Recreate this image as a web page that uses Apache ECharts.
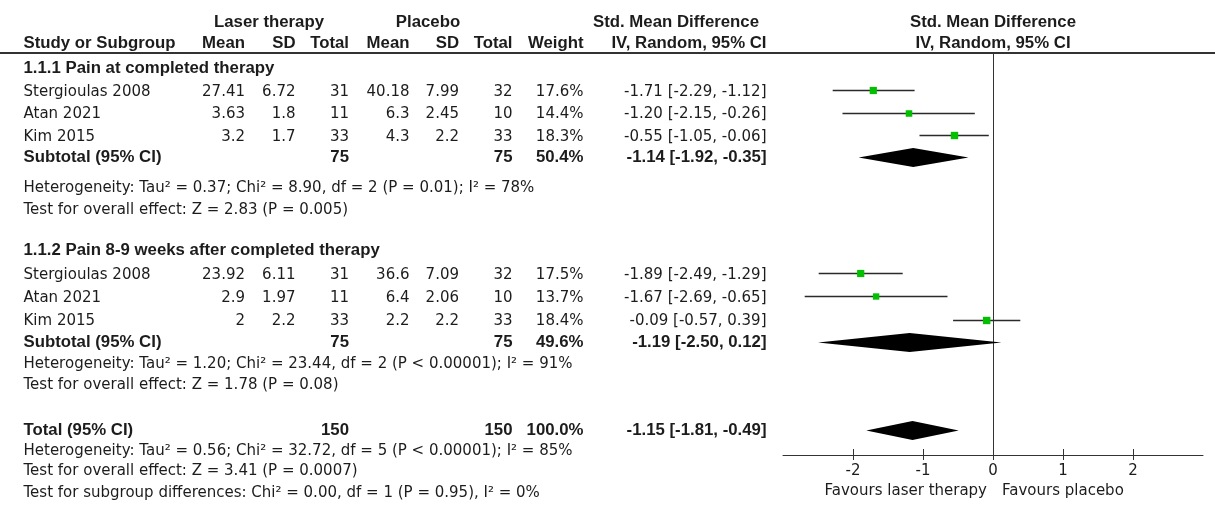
<!DOCTYPE html>
<html>
<head>
<meta charset="utf-8">
<script src="https://cdn.jsdelivr.net/npm/echarts@6/dist/echarts.min.js"></script>
<style>
  html, body { margin: 0; padding: 0; background: #ffffff; }
  #chart { width: 1215px; height: 513px; }
</style>
</head>
<body>
<div id="chart"></div>
<script>
// ---------- data ----------
const studies = ['Stergioulas 2008', 'Atan 2021', 'Kim 2015'];

// 1.1.1 Pain at completed therapy
const g1Title = '1.1.1 Pain at completed therapy';
const g1LaserMean = [27.41, 3.63, 3.2];
const g1LaserSD = [6.72, 1.8, 1.7];
const g1LaserN = [31, 11, 33];
const g1PlaceboMean = [40.18, 6.3, 4.3];
const g1PlaceboSD = [7.99, 2.45, 2.2];
const g1PlaceboN = [32, 10, 33];
const g1Weight = [17.6, 14.4, 18.3];
const g1SMD = [-1.71, -1.20, -0.55];
const g1Lower = [-2.29, -2.15, -1.05];
const g1Upper = [-1.12, -0.26, -0.06];
// laser N, placebo N, weight %, SMD, lower, upper
const g1Subtotal = [75, 75, 50.4, -1.14, -1.92, -0.35];
const g1Notes = [
  'Heterogeneity: Tau\u00b2 = 0.37; Chi\u00b2 = 8.90, df = 2 (P = 0.01); I\u00b2 = 78%',
  'Test for overall effect: Z = 2.83 (P = 0.005)'
];

// 1.1.2 Pain 8-9 weeks after completed therapy
const g2Title = '1.1.2 Pain 8-9 weeks after completed therapy';
const g2LaserMean = [23.92, 2.9, 2];
const g2LaserSD = [6.11, 1.97, 2.2];
const g2LaserN = [31, 11, 33];
const g2PlaceboMean = [36.6, 6.4, 2.2];
const g2PlaceboSD = [7.09, 2.06, 2.2];
const g2PlaceboN = [32, 10, 33];
const g2Weight = [17.5, 13.7, 18.4];
const g2SMD = [-1.89, -1.67, -0.09];
const g2Lower = [-2.49, -2.69, -0.57];
const g2Upper = [-1.29, -0.65, 0.39];
const g2Subtotal = [75, 75, 49.6, -1.19, -2.50, 0.12];
const g2Notes = [
  'Heterogeneity: Tau\u00b2 = 1.20; Chi\u00b2 = 23.44, df = 2 (P < 0.00001); I\u00b2 = 91%',
  'Test for overall effect: Z = 1.78 (P = 0.08)'
];

// Overall pooled result
const totalRow = [150, 150, 100.0, -1.15, -1.81, -0.49];
const totalNotes = [
  'Heterogeneity: Tau\u00b2 = 0.56; Chi\u00b2 = 32.72, df = 5 (P < 0.00001); I\u00b2 = 85%',
  'Test for overall effect: Z = 3.41 (P = 0.0007)',
  'Test for subgroup differences: Chi\u00b2 = 0.00, df = 1 (P = 0.95), I\u00b2 = 0%'
];

// Axis of the effect plot
const xTicks = [-2, -1, 0, 1, 2];
const xRange = [-3, 3];
const favourLeft = 'Favours laser therapy';
const favourRight = 'Favours placebo';

// ---------- layout ----------
const W = 1215, H = 513;
const FONT = '"DejaVu Sans", Verdana, sans-serif';
const FONT_BOLD = '"Liberation Sans", Arial, sans-serif';
const FS = 15;
const FS_BOLD = 16.8;
const TEXT = '#1c1c1c';
const LINE = '#333333';
const WHISKER = '#2a2a2a';
const GREEN = '#00c000';

const PLOT = { left: 783, width: 420, top: 53, bottom: 455 };
// x position of the line of no effect, in page coordinates
const ZERO_X = PLOT.left + (0 - xRange[0]) / (xRange[1] - xRange[0]) * PLOT.width;

// column anchors (table coordinates)
const COL = {
  study: 23.5, lMean: 245, lSD: 295.5, lN: 349,
  pMean: 409.5, pSD: 459, pN: 512.5, weight: 583.5, ci: 766.5,
  laserHead: 269, placeboHead: 428, smdHead: 676
};
// row centres (table coordinates)
const ROW = {
  head1: 22, head2: 43, rule: 53,
  g1Title: 68, g1Studies: [92, 114.5, 137], g1Sub: 157.5, g1Notes: [188, 210],
  g2Title: 250, g2Studies: [275, 298, 321.5], g2Sub: 342.5, g2Notes: [364.5, 385],
  total: 430.5, totalNotes: [451.5, 471.5, 493],
  favour: 491
};
const MARK_DY = -2;        // study squares sit slightly above the text centre
const SQUARE_K = 1.72;     // square side = k * sqrt(weight)
const DIAMOND_H = 9.5;

// ---------- build table cells ----------
const fmtCI = (m, l, u) => `${m.toFixed(2)} [${l.toFixed(2)}, ${u.toFixed(2)}]`;
const cells = [];
function cell(x, y, text, align, bold) {
  cells.push({ value: [x, y], text: String(text), align: align, bold: !!bold });
}

// headers
cell(COL.laserHead, ROW.head1, 'Laser therapy', 'center', true);
cell(COL.placeboHead, ROW.head1, 'Placebo', 'center', true);
cell(COL.smdHead, ROW.head1, 'Std. Mean Difference', 'center', true);
cell(ZERO_X, ROW.head1, 'Std. Mean Difference', 'center', true);
cell(COL.study, ROW.head2, 'Study or Subgroup', 'left', true);
cell(COL.lMean, ROW.head2, 'Mean', 'right', true);
cell(COL.lSD, ROW.head2, 'SD', 'right', true);
cell(COL.lN, ROW.head2, 'Total', 'right', true);
cell(COL.pMean, ROW.head2, 'Mean', 'right', true);
cell(COL.pSD, ROW.head2, 'SD', 'right', true);
cell(COL.pN, ROW.head2, 'Total', 'right', true);
cell(COL.weight, ROW.head2, 'Weight', 'right', true);
cell(COL.ci, ROW.head2, 'IV, Random, 95% CI', 'right', true);
cell(ZERO_X, ROW.head2, 'IV, Random, 95% CI', 'center', true);

function pooledCells(label, y, r) {
  cell(COL.study, y, label, 'left', true);
  cell(COL.lN, y, r[0], 'right', true);
  cell(COL.pN, y, r[1], 'right', true);
  cell(COL.weight, y, r[2].toFixed(1) + '%', 'right', true);
  cell(COL.ci, y, fmtCI(r[3], r[4], r[5]), 'right', true);
}

function groupCells(title, titleY, rows, lm, lsd, ln, pm, psd, pn, wt, smd, lo, hi, sub, subY, notes, notesY) {
  cell(COL.study, titleY, title, 'left', true);
  studies.forEach((s, i) => {
    const y = rows[i];
    cell(COL.study, y, s, 'left');
    cell(COL.lMean, y, lm[i], 'right');
    cell(COL.lSD, y, lsd[i], 'right');
    cell(COL.lN, y, ln[i], 'right');
    cell(COL.pMean, y, pm[i], 'right');
    cell(COL.pSD, y, psd[i], 'right');
    cell(COL.pN, y, pn[i], 'right');
    cell(COL.weight, y, wt[i].toFixed(1) + '%', 'right');
    cell(COL.ci, y, fmtCI(smd[i], lo[i], hi[i]), 'right');
  });
  pooledCells('Subtotal (95% CI)', subY, sub);
  notes.forEach((n, i) => cell(COL.study, notesY[i], n, 'left'));
}

groupCells(g1Title, ROW.g1Title, ROW.g1Studies, g1LaserMean, g1LaserSD, g1LaserN, g1PlaceboMean,
  g1PlaceboSD, g1PlaceboN, g1Weight, g1SMD, g1Lower, g1Upper, g1Subtotal, ROW.g1Sub, g1Notes, ROW.g1Notes);
groupCells(g2Title, ROW.g2Title, ROW.g2Studies, g2LaserMean, g2LaserSD, g2LaserN, g2PlaceboMean,
  g2PlaceboSD, g2PlaceboN, g2Weight, g2SMD, g2Lower, g2Upper, g2Subtotal, ROW.g2Sub, g2Notes, ROW.g2Notes);
pooledCells('Total (95% CI)', ROW.total, totalRow);
totalNotes.forEach((n, i) => cell(COL.study, ROW.totalNotes[i], n, 'left'));

// direction labels under the effect axis
cell(ZERO_X - 6, ROW.favour, favourLeft, 'right');
cell(ZERO_X + 9, ROW.favour, favourRight, 'left');

// ---------- forest marks: [smd, lower, upper, y, weight, kind(0 study / 1 pooled)] ----------
const marks = [];
[[g1SMD, g1Lower, g1Upper, g1Weight, ROW.g1Studies], [g2SMD, g2Lower, g2Upper, g2Weight, ROW.g2Studies]]
  .forEach(([m, l, u, w, ys]) => m.forEach((v, i) => marks.push([v, l[i], u[i], ys[i] + MARK_DY, w[i], 0])));
[[g1Subtotal, ROW.g1Sub], [g2Subtotal, ROW.g2Sub], [totalRow, ROW.total]]
  .forEach(([r, y]) => marks.push([r[3], r[4], r[5], y, r[2], 1]));

// ---------- chart ----------
const chart = echarts.init(document.getElementById('chart'), null, { renderer: 'canvas' });

chart.setOption({
  backgroundColor: '#ffffff',
  animation: false,
  grid: [
    { left: 0, top: 0, width: W, height: H },
    { left: PLOT.left, top: PLOT.top, width: PLOT.width, height: PLOT.bottom - PLOT.top }
  ],
  xAxis: [
    { type: 'value', gridIndex: 0, min: 0, max: W, show: false },
    {
      type: 'value', gridIndex: 1, min: xRange[0], max: xRange[1], position: 'bottom',
      axisLine: { show: true, onZero: false, lineStyle: { color: LINE, width: 1 } },
      axisTick: { show: true, inside: false, length: 5, customValues: xTicks, lineStyle: { color: LINE } },
      axisLabel: {
        show: true, customValues: xTicks, margin: 9, color: TEXT,
        fontFamily: FONT, fontSize: FS
      },
      splitLine: { show: false }
    },
    {
      type: 'value', gridIndex: 1, min: xRange[0], max: xRange[1], position: 'bottom',
      axisLine: { show: false, onZero: false },
      axisTick: { show: true, inside: true, length: 6, customValues: xTicks, lineStyle: { color: LINE } },
      axisLabel: { show: false },
      splitLine: { show: false }
    }
  ],
  yAxis: [
    { type: 'value', gridIndex: 0, min: 0, max: H, inverse: true, show: false },
    {
      type: 'value', gridIndex: 1, min: PLOT.top, max: PLOT.bottom, inverse: true,
      axisLine: { show: true, onZero: true, lineStyle: { color: LINE, width: 1 } },
      axisTick: { show: false }, axisLabel: { show: false }, splitLine: { show: false }
    }
  ],
  series: [
    {
      // header rule across the full width
      type: 'custom', xAxisIndex: 0, yAxisIndex: 0, clip: false, silent: true,
      data: [[0, W, ROW.rule]],
      encode: { x: [0, 1], y: 2 },
      renderItem: (params, api) => {
        const a = api.coord([api.value(0), api.value(2)]);
        const b = api.coord([api.value(1), api.value(2)]);
        return { type: 'line', shape: { x1: a[0], y1: a[1], x2: b[0], y2: b[1] },
                 style: { stroke: LINE, lineWidth: 2 } };
      }
    },
    {
      // table text
      type: 'custom', xAxisIndex: 0, yAxisIndex: 0, clip: false, silent: true,
      data: cells,
      encode: { x: 0, y: 1 },
      renderItem: (params, api) => {
        const c = cells[params.dataIndex];
        const p = api.coord([api.value(0), api.value(1)]);
        return {
          type: 'text', x: p[0], y: p[1],
          style: {
            text: c.text, align: c.align, verticalAlign: 'middle',
            fontFamily: c.bold ? FONT_BOLD : FONT,
            fontSize: c.bold ? FS_BOLD : FS,
            fontWeight: c.bold ? 'bold' : 'normal', fill: TEXT
          }
        };
      }
    },
    {
      // confidence intervals, weighted squares and pooled diamonds
      type: 'custom', xAxisIndex: 1, yAxisIndex: 1, clip: false, silent: true,
      data: marks,
      encode: { x: [0, 1, 2], y: 3 },
      renderItem: (params, api) => {
        const y = api.value(3);
        const c = api.coord([api.value(0), y]);
        const a = api.coord([api.value(1), y]);
        const b = api.coord([api.value(2), y]);
        if (api.value(5) === 0) {
          const s = SQUARE_K * Math.sqrt(api.value(4));
          const ly = Math.round(c[1]) + 0.5;   // keep the whisker on a pixel row
          return {
            type: 'group',
            children: [
              { type: 'line', shape: { x1: a[0], y1: ly, x2: b[0], y2: ly },
                style: { stroke: WHISKER, lineWidth: 1.4 } },
              { type: 'rect', shape: { x: c[0] - s / 2, y: ly - s / 2, width: s, height: s },
                style: { fill: GREEN } }
            ]
          };
        }
        return {
          type: 'polygon',
          shape: { points: [[a[0], c[1]], [c[0], c[1] - DIAMOND_H], [b[0], c[1]], [c[0], c[1] + DIAMOND_H]] },
          style: { fill: '#000000' }
        };
      }
    }
  ]
});
</script>
</body>
</html>
